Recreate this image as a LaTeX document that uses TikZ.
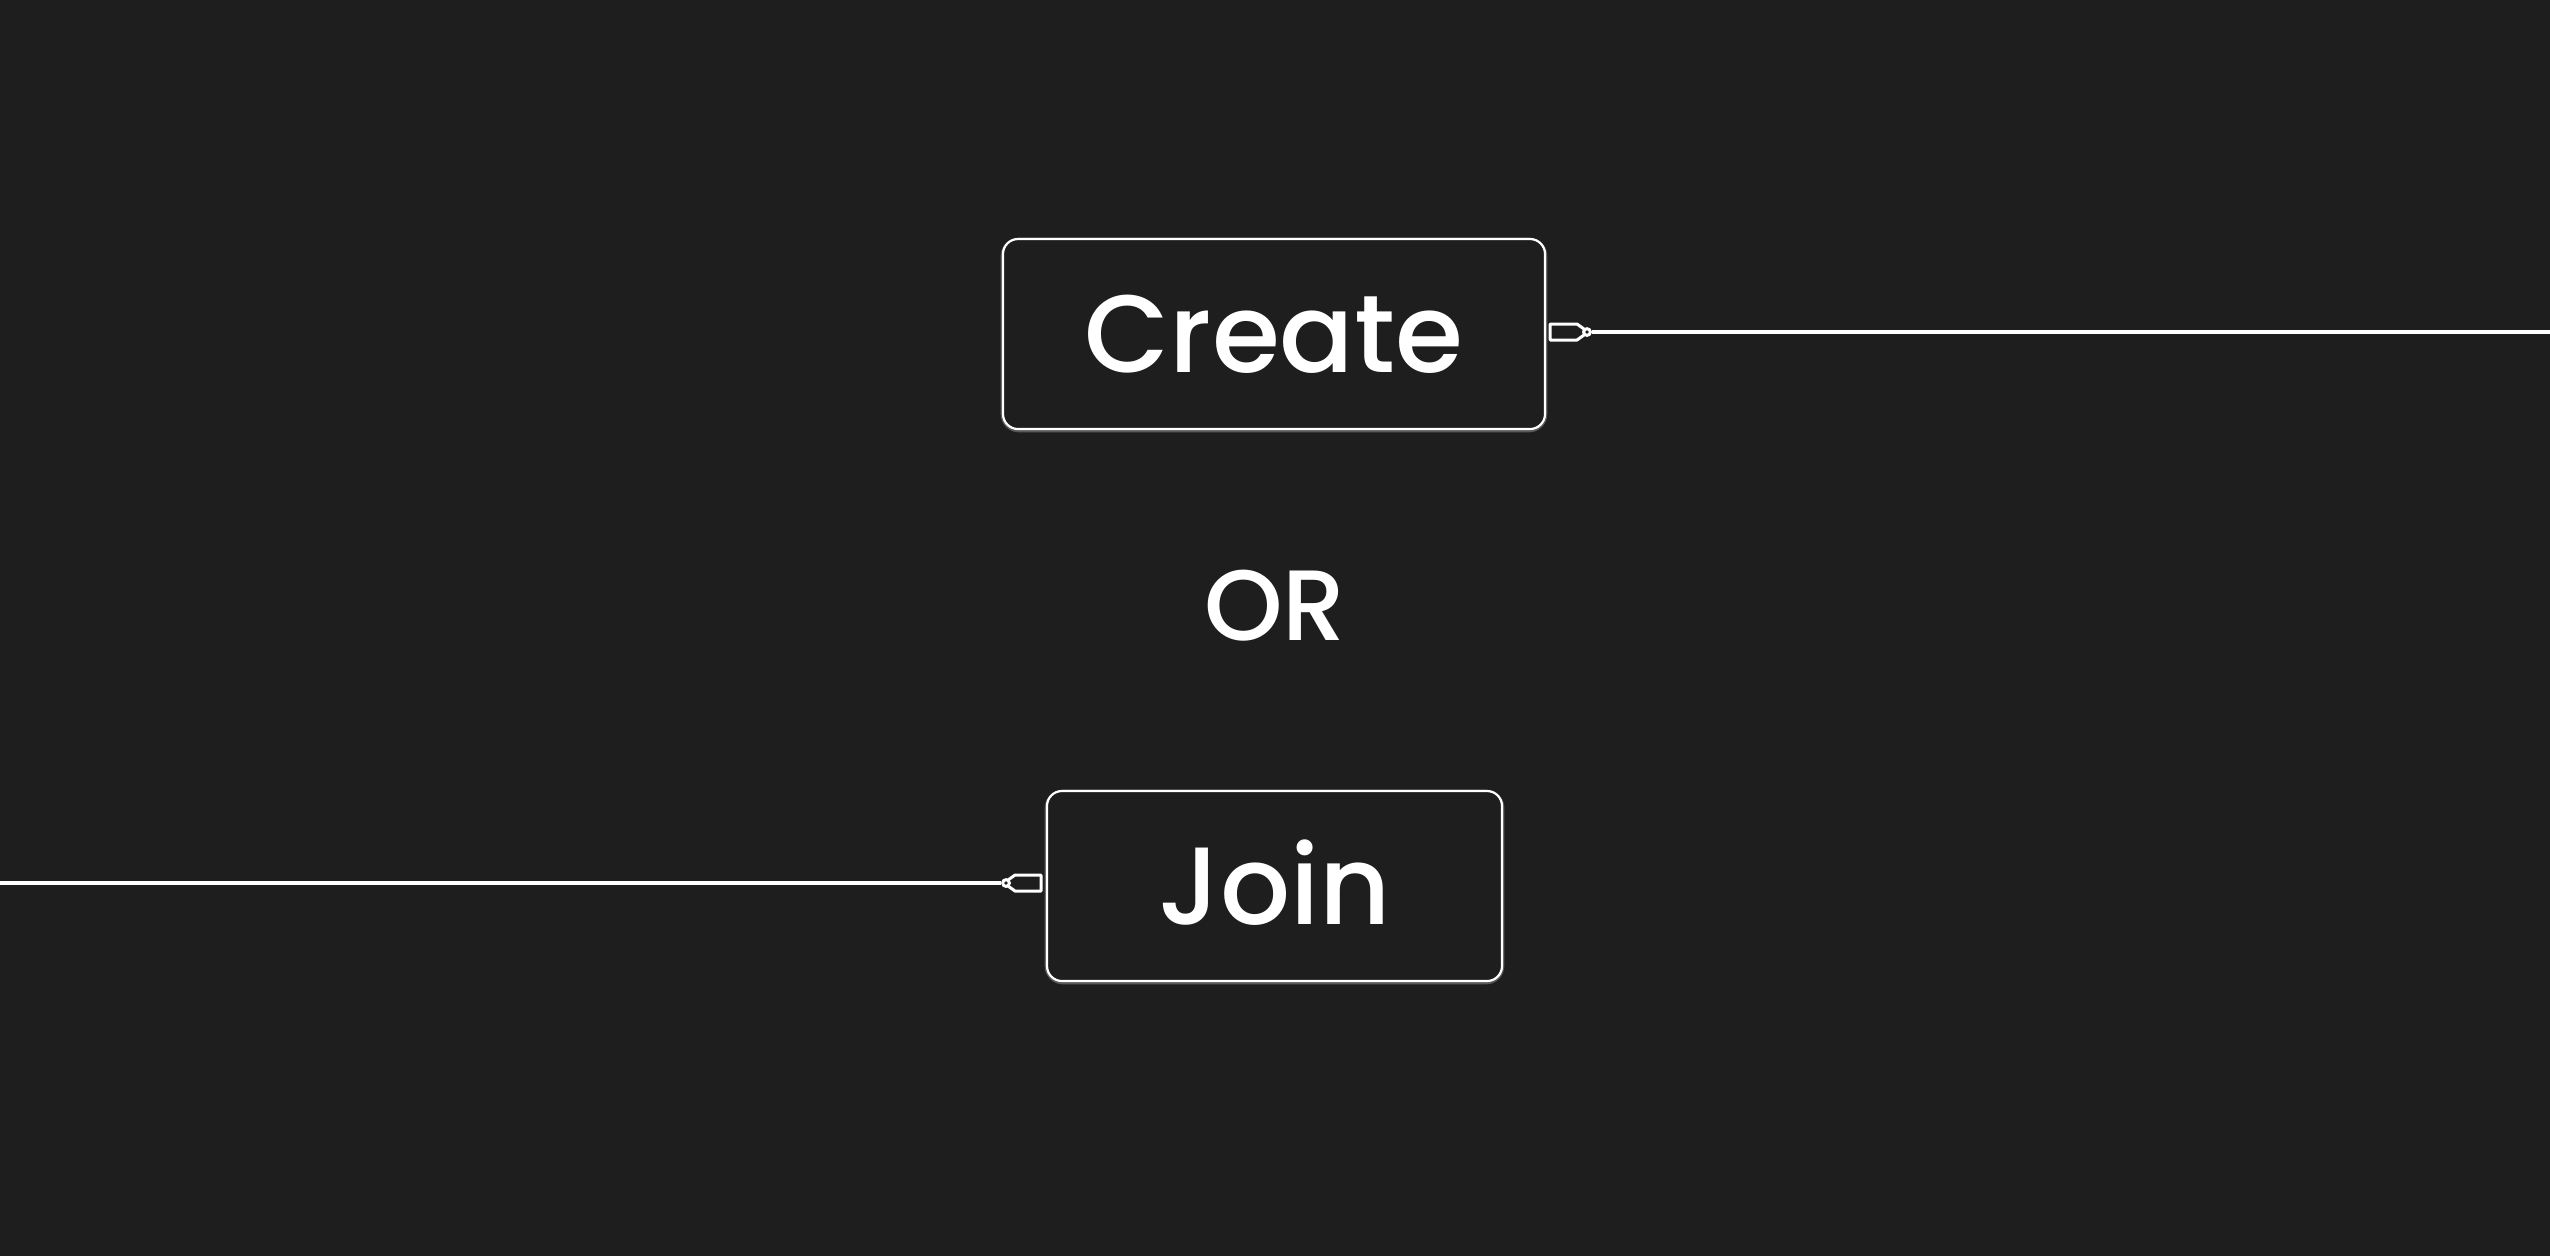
\documentclass[tikz,border=0pt]{standalone}
\usepackage{fontspec}
\setmainfont{Poppins}[UprightFont=* Medium]
\usepackage{xcolor}
\usetikzlibrary{positioning}

\definecolor{bgdark}{HTML}{1E1E1E}
\definecolor{glowgrey}{HTML}{5A5A5A}

\begin{document}
\begin{tikzpicture}[x=0.3pt, y=-0.3pt,
    choice/.style={draw=white, line width=0.65pt, fill=bgdark, rounded corners=4.5pt,
        minimum height=57pt, text=white, font=\fontsize{33}{35}\selectfont,
        text height=23pt, text depth=0pt, inner sep=0pt},
    plugtip/.style={circle, draw=white, line width=0.9pt, fill=bgdark, inner sep=0pt, minimum size=2pt},
    wire/.style={draw=white, line width=1.1pt},
    plugbody/.style={draw=white, line width=0.9pt, fill=bgdark, line join=round}]

 % background and page size
 \fill[bgdark] (0,0) rectangle (2550,1256);
 \useasboundingbox (0,0) rectangle (2550,1256);

 % faint glow behind the boxes
 \draw[glowgrey, line width=1.4pt, rounded corners=4.8pt] (1003,240) rectangle (1545,430);
 \draw[glowgrey, line width=1.4pt, rounded corners=4.8pt] (1047,792) rectangle (1502,982);

 \node[choice, minimum width=162.6pt] (box_create) at (1274,334) {Create};

 \node[text=white, font=\fontsize{30}{32}\selectfont, text height=21pt, text depth=0pt, inner sep=0pt]
     (label_or) at (1275,605) {OR};

 \node[choice, minimum width=136.5pt] (box_join) at (1274.5,886) {Join};

 % plug on the right of Create
 \draw[plugbody] (1550,324) -- (1577,324) -- (1584,329) -- (1584,335) -- (1577,340) -- (1550,340) -- cycle;
 \node[plugtip] (plug_create) at (1587,332) {};
 \coordinate (end_create) at (2550,332);

 % plug on the left of Join
 \draw[plugbody] (1041,875) -- (1015,875) -- (1008,880) -- (1008,886) -- (1015,891) -- (1041,891) -- cycle;
 \node[plugtip] (plug_join) at (1006,883) {};
 \coordinate (end_join) at (0,883);

 \draw[wire] (plug_create) -- (end_create);
 \draw[wire] (end_join) -- (plug_join);

\end{tikzpicture}
\end{document}
